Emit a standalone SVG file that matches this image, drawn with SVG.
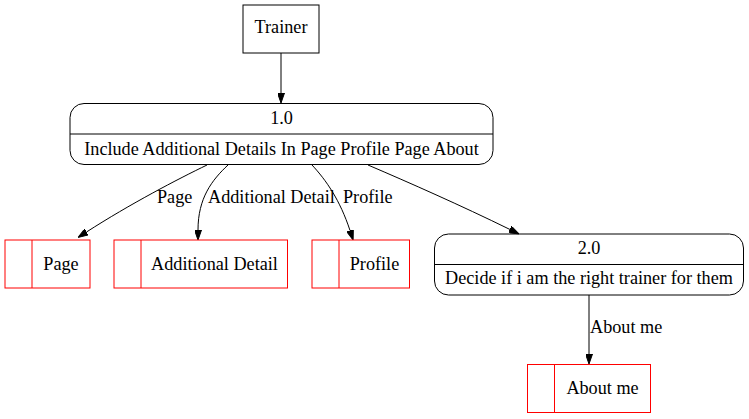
<svg xmlns="http://www.w3.org/2000/svg" width="749" height="419" viewBox="0 0 749 419">
<style>
text{font-family:'Liberation Serif','Times New Roman',serif;font-size:18.2px;fill:#000}
.c{text-anchor:middle}
.n{fill:none;stroke:#000;stroke-width:1}
.s{fill:none;stroke:#ff0000;stroke-width:1}
.e{fill:none;stroke:#000;stroke-width:1}
</style>
<defs>
<marker id="ah" markerWidth="10" markerHeight="7" refX="0" refY="3.5" orient="auto" markerUnits="userSpaceOnUse">
<path d="M0,0 L10,3.5 L0,7 Z" fill="#000" stroke="#000"/>
</marker>
</defs>
<rect width="749" height="419" fill="#fff"/>
<g id="connectors">
<path class="e" d="M281,53 L281,93" marker-end="url(#ah)"/>
<path class="e" d="M207,165 C178,179 130,204 86.5,232" marker-end="url(#ah)"/>
<path class="e" d="M228,165 C212,180 198,198 198,230" marker-end="url(#ah)"/>
<path class="e" d="M312,165 C326,180 340,200 350,230.5" marker-end="url(#ah)"/>
<path class="e" d="M368,165 C410,183 460,205 510,229.5" marker-end="url(#ah)"/>
<path class="e" d="M589,295 L589,354" marker-end="url(#ah)"/>
<text x="157" y="203">Page</text>
<text x="208" y="203">Additional Detail</text>
<text x="343" y="203">Profile</text>
<text x="590" y="333">About me</text>
</g>
<g id="trainer">
<rect class="n" x="243" y="5" width="76" height="48"/>
<text class="c" x="281" y="33">Trainer</text>
</g>
<g id="p1">
<rect class="n" x="70" y="103.5" width="423" height="61" rx="14" ry="14"/>
<line class="n" x1="70" y1="134" x2="493" y2="134"/>
<text class="c" x="281.5" y="124">1.0</text>
<text class="c" x="281.5" y="155">Include Additional Details In Page Profile Page About</text>
</g>
<g id="page">
<rect class="s" x="5" y="240" width="85" height="48"/>
<line class="s" x1="32" y1="240" x2="32" y2="288"/>
<text class="c" x="61" y="270">Page</text>
</g>
<g id="additional">
<rect class="s" x="114" y="240" width="173.5" height="48"/>
<line class="s" x1="141" y1="240" x2="141" y2="288"/>
<text class="c" x="214.5" y="270">Additional Detail</text>
</g>
<g id="profile">
<rect class="s" x="312" y="240" width="97.5" height="48"/>
<line class="s" x1="339" y1="240" x2="339" y2="288"/>
<text class="c" x="374.5" y="270">Profile</text>
</g>
<g id="p2">
<rect class="n" x="434.5" y="234" width="309" height="61" rx="14" ry="14"/>
<line class="n" x1="434.5" y1="264.5" x2="743.5" y2="264.5"/>
<text class="c" x="589" y="254">2.0</text>
<text class="c" x="589" y="284">Decide if i am the right trainer for them</text>
</g>
<g id="aboutme">
<rect class="s" x="527.5" y="364.5" width="123" height="48"/>
<line class="s" x1="554.5" y1="364.5" x2="554.5" y2="412.5"/>
<text class="c" x="602.5" y="394">About me</text>
</g>
</svg>
